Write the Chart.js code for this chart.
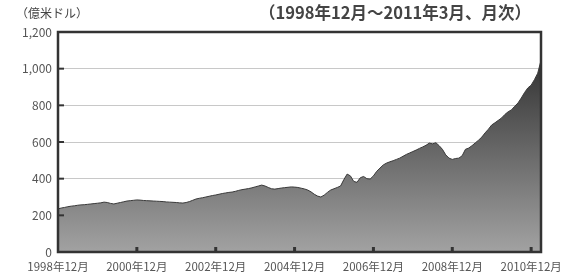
<!DOCTYPE html>
<html>
<head>
<meta charset="utf-8">
<script src="https://cdn.jsdelivr.net/npm/chart.js@4"></script>
<style>
    html, body { margin: 0; padding: 0; background: #fff; }
    #wrap { position: relative; width: 579px; height: 274px; }
    #wrap canvas { position: absolute; left: 0; top: 0; }
    .unit { position: absolute; left: 16px; top: 7px; font: 12px "Noto Sans CJK JP"; line-height: 1; color: #444; }
    .period { position: absolute; left: 259px; top: 4px; font: bold 16.5px "Noto Sans CJK JP"; line-height: 1; color: #444; }
</style>
</head>
<body>
<div id="wrap">
    <canvas id="reserveChart" width="579" height="274"></canvas>
    <div class="unit">（億米ドル）</div>
    <div class="period">（1998年12月～2011年3月、月次）</div>
</div>
<script>
// Monthly values, 1998/12 - 2011/03 (億米ドル)
const values1998 = [235];
const values1999 = [240, 243, 247, 250, 252, 255, 257, 258, 260, 262, 264, 266];
const values2000 = [268, 272, 270, 265, 262, 266, 270, 274, 278, 280, 282, 284];
const values2001 = [283, 281, 280, 279, 278, 277, 276, 275, 273, 272, 271, 270];
const values2002 = [268, 267, 270, 275, 282, 289, 293, 296, 300, 304, 308, 311];
const values2003 = [315, 319, 322, 325, 327, 331, 336, 340, 343, 346, 350, 355];
const values2004 = [360, 365, 360, 352, 345, 343, 346, 349, 351, 353, 355, 354];
const values2005 = [352, 348, 344, 338, 328, 315, 305, 300, 310, 325, 338, 345];
const values2006 = [352, 360, 395, 425, 415, 385, 380, 405, 412, 400, 398, 415];
const values2007 = [440, 458, 475, 485, 492, 498, 505, 512, 522, 532, 540, 548];
const values2008 = [556, 565, 573, 582, 594, 590, 596, 580, 560, 530, 512, 505];
const values2009 = [510, 512, 525, 560, 567, 580, 595, 610, 627, 650, 670, 693];
const values2010 = [705, 718, 731, 750, 765, 775, 795, 813, 840, 870, 895, 910];
const values2011 = [940, 975, 1045];

const reserves = [].concat(values1998, values1999, values2000, values2001, values2002,
    values2003, values2004, values2005, values2006, values2007, values2008,
    values2009, values2010, values2011);

const tickLabels = ['1998年12月', '2000年12月', '2002年12月', '2004年12月', '2006年12月', '2008年12月', '2010年12月'];
const yTicks = [0, 200, 400, 600, 800, 1000, 1200];

// month labels
const months = reserves.map((v, i) => {
    const y = 1998 + Math.floor((11 + i) / 12);
    const m = (11 + i) % 12 + 1;
    return y + '年' + m + '月';
});

const FONT = '"Noto Sans CJK JP", "Noto Sans", sans-serif';

// frame + inner tick marks
const framePlugin = {
    id: 'frame',
    afterDatasetsDraw(chart) {
        const { ctx, chartArea: a, scales } = chart;
        ctx.save();
        ctx.strokeStyle = '#333';
        ctx.lineWidth = 2;
        yTicks.forEach(v => {
            if (v === 0 || v === 1200) return;
            const y = scales.y.getPixelForValue(v);
            ctx.beginPath();
            ctx.moveTo(a.left, y);
            ctx.lineTo(a.left + 6, y);
            ctx.stroke();
        });
        ctx.lineWidth = 3;
        months.forEach((m, i) => {
            if (i === 0 || i % 24 !== 0) return;
            const x = scales.x.getPixelForValue(i);
            ctx.beginPath();
            ctx.moveTo(x, a.bottom);
            ctx.lineTo(x, a.bottom - 5);
            ctx.stroke();
        });
        ctx.lineWidth = 2.5;
        ctx.strokeRect(a.left, a.top, a.right - a.left, a.bottom - a.top);
        ctx.restore();
    }
};

const ctx = document.getElementById('reserveChart');
new Chart(ctx, {
    type: 'line',
    data: {
        labels: months,
        datasets: [{
            data: reserves,
            fill: 'origin',
            borderColor: '#3a3a3a',
            borderWidth: 1,
            pointRadius: 0,
            tension: 0,
            backgroundColor: function (context) {
                const area = context.chart.chartArea;
                if (!area) return '#666';
                const g = context.chart.ctx.createLinearGradient(0, area.top, 0, area.bottom);
                g.addColorStop(0, '#232323');
                g.addColorStop(1, '#a2a2a2');
                return g;
            }
        }]
    },
    options: {
        responsive: false,
        animation: false,
        layout: { padding: { left: 0, top: 32, right: 38, bottom: 0 } },
        plugins: {
            legend: { display: false },
            tooltip: { enabled: false }
        },
        scales: {
            x: {
                type: 'category',
                offset: false,
                afterFit: function (scale) { scale.height = 22; },
                border: { display: false },
                grid: { display: false },
                ticks: {
                    autoSkip: false,
                    maxRotation: 0,
                    padding: 0,
                    color: '#555',
                    font: { family: FONT, size: 11.5, lineHeight: 1.1 },
                    callback: function (val, idx) {
                        return idx % 24 === 0 ? tickLabels[idx / 24] : null;
                    }
                }
            },
            y: {
                min: 0,
                max: 1200,
                afterFit: function (scale) { scale.width = 58; },
                afterBuildTicks: function (scale) {
                    scale.ticks = yTicks.map(v => ({ value: v }));
                },
                border: { display: false },
                grid: {
                    color: '#c8c8c8',
                    lineWidth: 1,
                    drawTicks: false
                },
                ticks: {
                    padding: 6,
                    color: '#555',
                    font: { family: FONT, size: 12 },
                    callback: function (v) {
                        return v.toLocaleString('en-US');
                    }
                }
            }
        }
    },
    plugins: [framePlugin]
});
</script>
</body>
</html>
